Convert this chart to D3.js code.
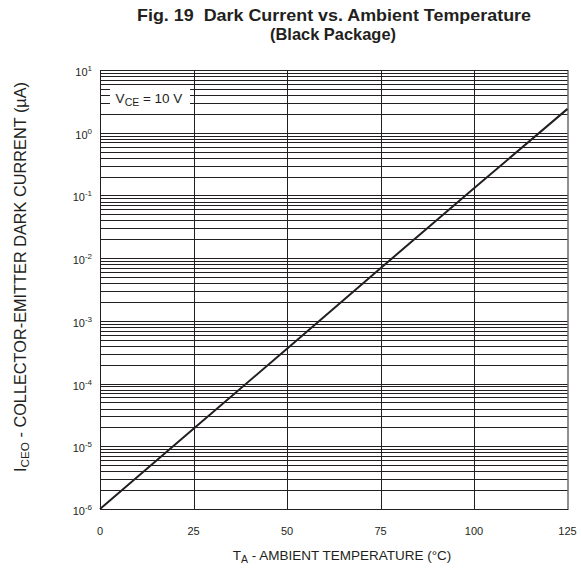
<!DOCTYPE html>
<html>
<head>
<meta charset="utf-8">
<script src="https://cdn.jsdelivr.net/npm/d3@7"></script>
<style>
  body { margin: 0; background: #fff; }
  svg text { font-family: 'Liberation Sans', Arial, sans-serif; fill: #231f20; white-space: pre; }
</style>
</head>
<body>
<div id="chart"></div>
<script>
// Dark current readings (temperature in deg C, current in uA)
var tempValues = [0, 25, 50, 75, 100, 125]
var currentValues = [1e-6, 1.9e-5, 3.6e-4, 6.9e-3, 1.3e-1, 2.4]
var xTickValues = [0, 25, 50, 75, 100, 125]
var yExponents = [-6, -5, -4, -3, -2, -1, 0, 1]

var width = 581
var height = 571
var margin = { top: 70, right: 13.5, bottom: 62, left: 100 }
var plotW = width - margin.left - margin.right
var plotH = height - margin.top - margin.bottom

var svg = d3.select('#chart').append('svg')
  .attr('width', width)
  .attr('height', height)

var x = d3.scaleLinear().domain([0, 125]).range([0, plotW])
var y = d3.scaleLog().domain([1e-6, 1e1]).range([plotH, 0])

// Title
svg.append('text')
  .attr('x', 334).attr('y', 21)
  .attr('text-anchor', 'middle')
  .attr('textLength', 394)
  .attr('lengthAdjust', 'spacingAndGlyphs')
  .style('font-weight', 'bold').style('font-size', '16.5px')
  .text('Fig. 19  Dark Current vs. Ambient Temperature')
svg.append('text')
  .attr('x', 333).attr('y', 40)
  .attr('text-anchor', 'middle')
  .attr('textLength', 126)
  .attr('lengthAdjust', 'spacingAndGlyphs')
  .style('font-weight', 'bold').style('font-size', '16.5px')
  .text('(Black Package)')

var g = svg.append('g')
  .attr('transform', 'translate(' + margin.left + ',' + margin.top + ')')

// Horizontal grid: every 1..9 of each decade
var hLines = []
for (var e = -6; e < 1; e++) {
  for (var m = 1; m < 10; m++) hLines.push(m * Math.pow(10, e))
}
g.selectAll('.hgrid')
  .data(hLines)
  .enter().append('line')
  .attr('class', 'hgrid')
  .attr('x1', 0).attr('x2', plotW)
  .attr('y1', function (d) { return Math.round(y(d)) + 0.5 })
  .attr('y2', function (d) { return Math.round(y(d)) + 0.5 })
  .style('stroke', '#231f20')
  .style('stroke-width', 1)

// Vertical grid
g.selectAll('.vgrid')
  .data(xTickValues.slice(1, -1))
  .enter().append('line')
  .attr('class', 'vgrid')
  .attr('x1', function (d) { return Math.round(x(d)) + 0.5 })
  .attr('x2', function (d) { return Math.round(x(d)) + 0.5 })
  .attr('y1', 0).attr('y2', plotH)
  .style('stroke', '#231f20')
  .style('stroke-width', 1)

// Frame
g.append('rect')
  .attr('x', 0.5).attr('y', 0.5)
  .attr('width', plotW).attr('height', plotH)
  .style('fill', 'none')
  .style('stroke', '#231f20')
  .style('stroke-width', 1)

// Condition label
g.append('rect')
  .attr('x', 10).attr('y', 17)
  .attr('width', 80).attr('height', 21)
  .style('fill', '#fff')
var cond = g.append('text')
  .attr('x', 49).attr('y', 33)
  .attr('text-anchor', 'middle')
  .style('font-size', '13.5px')
cond.append('tspan').text('V')
cond.append('tspan').attr('dy', 3).style('font-size', '10.5px').text('CE')
cond.append('tspan').attr('dy', -3).text(' = 10 V')

// Curve
var line = d3.line()
  .x(function (d, i) { return x(tempValues[i]) })
  .y(function (d) { return y(d) })
g.append('path')
  .datum(currentValues)
  .attr('d', line)
  .style('fill', 'none')
  .style('stroke', '#231f20')
  .style('stroke-width', 2)

// X tick labels
g.selectAll('.xtick')
  .data(xTickValues)
  .enter().append('text')
  .attr('class', 'xtick')
  .attr('x', function (d) { return x(d) })
  .attr('y', plotH + 26)
  .attr('text-anchor', 'middle')
  .style('font-size', '11px')
  .text(function (d) { return d })

// Y tick labels, 10^n
var yt = g.selectAll('.ytick')
  .data(yExponents)
  .enter().append('text')
  .attr('class', 'ytick')
  .attr('x', -8)
  .attr('y', function (d) { return y(Math.pow(10, d)) + 6 })
  .attr('text-anchor', 'end')
  .style('font-size', '11px')
yt.append('tspan').text('10')
yt.append('tspan')
  .attr('dy', -5)
  .style('font-size', '8px')
  .text(function (d) { return d })

// X axis title
var xt = svg.append('text')
  .attr('x', 342).attr('y', 560)
  .attr('text-anchor', 'middle')
  .style('font-size', '13.5px')
xt.append('tspan').text('T')
xt.append('tspan').attr('dy', 3).style('font-size', '10.5px').text('A')
xt.append('tspan').attr('dy', -3).text(' - AMBIENT TEMPERATURE (\u00b0C)')

// Y axis title
var ytl = svg.append('text')
  .attr('transform', 'translate(26,277) rotate(-90)')
  .attr('text-anchor', 'middle')
  .attr('textLength', 390)
  .attr('lengthAdjust', 'spacingAndGlyphs')
  .style('font-size', '16px')
ytl.append('tspan').text('I')
ytl.append('tspan').attr('dy', 3).style('font-size', '11.5px').text('CEO')
ytl.append('tspan').attr('dy', -3).text(' - COLLECTOR-EMITTER DARK CURRENT (\u00b5A)')
</script>
</body>
</html>
